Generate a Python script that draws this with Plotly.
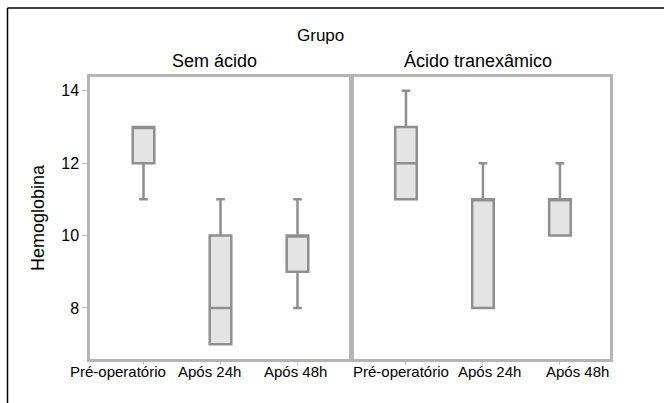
import plotly.graph_objects as go

categories = ["Pré-operatório", "Após 24h", "Após 48h"]
groups = ["Sem ácido", "Ácido tranexâmico"]

# box statistics per group
sem_min = [11, 7, 8]
sem_q1 = [12, 7, 9]
sem_med = [13, 8, 10]
sem_q3 = [13, 10, 10]
sem_max = [13, 11, 11]

acido_min = [11, 8, 10]
acido_q1 = [11, 8, 10]
acido_med = [12, 11, 11]
acido_q3 = [13, 11, 11]
acido_max = [14, 12, 12]

y_ticks = [8, 10, 12, 14]

W, H = 664, 403
FONT = "Liberation Sans, Arial, Helvetica, sans-serif"

def px_x(p):
    return p / W

def px_y(p):
    return 1 - p / H

fig = go.Figure()

box_style = dict(
    fillcolor="#e4e4e4",
    line=dict(color="#8f8f8f", width=2.5),
    width=0.28,
    whiskerwidth=0.4,
    boxpoints=False,
    showlegend=False,
    hoverinfo="skip",
)

xs = list(range(len(categories)))
fig.add_trace(go.Box(x=xs, q1=sem_q1, median=sem_med, q3=sem_q3,
                     lowerfence=sem_min, upperfence=sem_max,
                     xaxis="x", yaxis="y", **box_style))
fig.add_trace(go.Box(x=xs, q1=acido_q1, median=acido_med, q3=acido_q3,
                     lowerfence=acido_min, upperfence=acido_max,
                     xaxis="x2", yaxis="y2", **box_style))

axis_common = dict(
    showgrid=False, zeroline=False,
    showline=True, mirror=True, linecolor="#b4b4b4", linewidth=2.5,
)
xaxis_common = dict(
    axis_common,
    tickmode="array", tickvals=xs, showticklabels=False,
    ticks="outside", ticklen=3, tickcolor="#c4c4c4",
)

yrange = [6.59, 14.38]
fig.update_layout(
    width=W, height=H,
    margin=dict(l=0, r=0, t=0, b=0),
    paper_bgcolor="white", plot_bgcolor="white",
    xaxis=dict(xaxis_common, domain=[px_x(90), px_x(349)], range=[-0.695, 2.669], anchor="y"),
    xaxis2=dict(xaxis_common, domain=[px_x(354), px_x(610)], range=[-0.675, 2.65], anchor="y2"),
    yaxis=dict(axis_common, domain=[px_y(359), px_y(77)], range=yrange,
               tickmode="array", tickvals=y_ticks, ticks="outside", ticklen=5,
               tickcolor="#c4c4c4",
               tickfont=dict(family=FONT, size=16, color="black"),
               title=dict(text="Hemoglobina", font=dict(family=FONT, size=18, color="black"),
                          standoff=12),
               anchor="x"),
    yaxis2=dict(axis_common, domain=[px_y(359), px_y(77)], range=yrange,
                showticklabels=False, ticks="", anchor="x2"),
    font=dict(family=FONT, color="black"),
)

# category labels under each panel (slightly offset as in the original)
label_shift = {"x": [-26, -11, -2], "y": [0, 0, 0], "x2": [-5, 7, 18]}
for ax, shifts in (("x", label_shift["x"]), ("x2", label_shift["x2"])):
    for i, cat in enumerate(categories):
        fig.add_annotation(xref=ax, yref="paper", x=xs[i], y=px_y(371),
                           text=cat, showarrow=False, xshift=shifts[i],
                           xanchor="center", yanchor="middle",
                           font=dict(family=FONT, size=15, color="black"))

annotations = [
    dict(text="Grupo", x=px_x(320), y=px_y(36), size=17),
    dict(text=groups[0], x=px_x(215), y=px_y(61), size=18),
    dict(text=groups[1], x=px_x(478), y=px_y(61), size=18),
]
for a in annotations:
    size = a.pop("size")
    fig.add_annotation(xref="paper", yref="paper", showarrow=False,
                       xanchor="center", yanchor="middle",
                       font=dict(family=FONT, size=size, color="black"), **a)

# outer frame (left and top edges visible)
fig.add_shape(type="line", xref="paper", yref="paper",
              x0=px_x(7.5), x1=px_x(7.5), y0=0, y1=px_y(8),
              line=dict(color="black", width=1.5))
fig.add_shape(type="line", xref="paper", yref="paper",
              x0=px_x(7.5), x1=1, y0=px_y(8), y1=px_y(8),
              line=dict(color="black", width=1.5))

fig.write_html("out.html")
